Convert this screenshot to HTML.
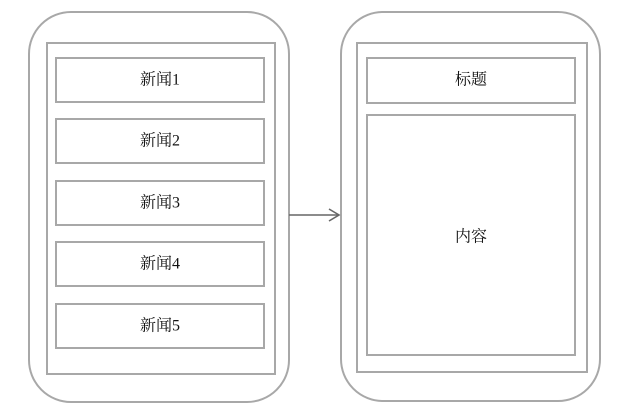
<!DOCTYPE html>
<html><head><meta charset="utf-8"><style>
body{margin:0;background:#fff;}
svg text{font-family:"Liberation Serif","Noto Serif CJK SC",serif;font-size:16px;fill:#111;text-anchor:middle;dominant-baseline:middle;}
</style></head><body>
<svg width="635" height="415" xmlns="http://www.w3.org/2000/svg">
<g fill="none" stroke="#a8a8a8" stroke-width="2">
<rect x="29" y="12" width="260" height="390" rx="42"/>
<rect x="47" y="43" width="228" height="331"/>
<rect x="56" y="58" width="208" height="44"/>
<rect x="56" y="119" width="208" height="44"/>
<rect x="56" y="181" width="208" height="44"/>
<rect x="56" y="242" width="208" height="44"/>
<rect x="56" y="304" width="208" height="44"/>
<rect x="341" y="12" width="259" height="389" rx="42"/>
<rect x="357" y="43" width="230" height="329"/>
<rect x="367" y="58" width="208" height="45"/>
<rect x="367" y="115" width="208" height="240"/>
</g>
<g stroke="#666" stroke-width="1.6" fill="none">
<line x1="289" y1="215" x2="339" y2="215"/>
<polyline points="329,209 339,215 329,221"/>
</g>
<text x="160" y="81">新闻1</text>
<text x="160" y="142">新闻2</text>
<text x="160" y="204">新闻3</text>
<text x="160" y="265">新闻4</text>
<text x="160" y="327">新闻5</text>
<text x="471" y="81">标题</text>
<text x="471" y="238">内容</text>
</svg>
</body></html>
